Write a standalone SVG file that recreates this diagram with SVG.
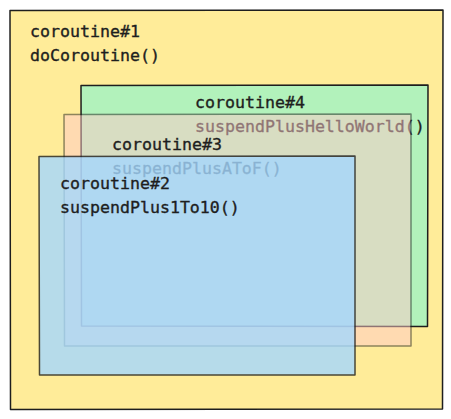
<svg xmlns="http://www.w3.org/2000/svg" width="451" height="419" viewBox="0 0 451 419">
<style>
.box{stroke:#1e1e1e;stroke-width:1.5;stroke-linejoin:round}
.t{font-family:"DejaVu Sans Mono","Liberation Mono",monospace;font-size:16.6px;fill:#1e1e1e;stroke:#1e1e1e;stroke-width:0.35}
</style>
<rect width="451" height="419" fill="#ffffff"/>
<g id="coroutine1">
<path class="box" fill="#ffec99" d="M10,10.5 L443,10 L442.5,409 L10.5,409.5 Z"/>
<text class="t" x="30" y="37">coroutine#1</text>
<text class="t" x="30" y="61">doCoroutine()</text>
</g>
<g id="coroutine4">
<path class="box" fill="#b2f2bb" d="M81,85.5 L428,85 L427.5,326.5 L81.5,326 Z"/>
<text class="t" x="195" y="108">coroutine#4</text>
<text class="t" x="195" y="132">suspendPlusHelloWorld()</text>
</g>
<g id="coroutine3">
<path class="box" fill="#ffc9c9" opacity="0.5" d="M64,114.5 L411,114 L411,346 L64.5,346 Z"/>
<text class="t" x="112" y="150">coroutine#3</text>
<text class="t" x="112" y="174">suspendPlusAToF()</text>
</g>
<g id="coroutine2">
<path class="box" fill="#a5d8ff" opacity="0.8" d="M39,156.5 L355,156 L355,375 L39.5,375 Z"/>
<text class="t" x="60" y="189">coroutine#2</text>
<text class="t" x="60" y="213">suspendPlus1To10()</text>
</g>
</svg>
